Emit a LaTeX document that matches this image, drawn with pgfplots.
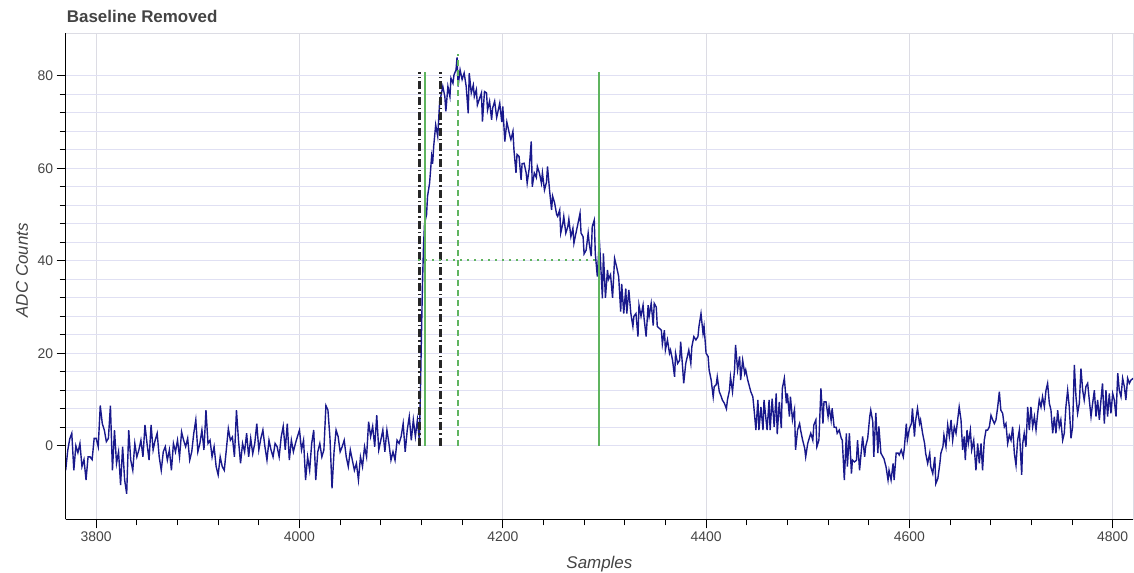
\documentclass[border=0pt]{standalone}
\usepackage{pgfplots}
\pgfplotsset{compat=1.18}
\usepackage{fontspec}
\setmainfont{Liberation Sans}
\definecolor{wave}{RGB}{25,25,140}
\definecolor{mkgreen}{RGB}{95,180,95}
\definecolor{hgrid}{RGB}{224,224,243}
\definecolor{vgrid}{RGB}{220,220,228}
\definecolor{txt}{RGB}{68,68,68}
\begin{document}
\begin{tikzpicture}
\begin{axis}[
 at={(0,0)}, anchor=south west,
 scale only axis, width=1067.3bp, height=486bp,
 xmin=3770, xmax=4820, ymin=-15.9, ymax=89.2,
 xtick={3800,4000,...,4800}, ytick={0,20,...,80},
 minor x tick num=4, minor y tick num=4,
 xtick pos=bottom, ytick pos=left,
 tick align=outside,
 major tick length=9bp, minor tick length=6bp,
 tick style={black, line width=1bp},
 axis line style={draw=vgrid, line width=1bp},
 xmajorgrids=true, ymajorgrids=true, yminorgrids=true,
 major x grid style={vgrid, line width=1bp},
 major y grid style={hgrid, line width=1bp},
 minor y grid style={hgrid, line width=1bp},
 ticklabel style={font=\fontsize{14}{14}\selectfont, text=txt},
 /pgf/number format/.cd, 1000 sep={}, assume math mode=true,
]
% waveform
\addplot[wave, line width=1.4bp] table {
x y
3770 -5.3
3772 -1.0
3774 1.5
3776 2.7
3778 -5.3
3780 0
3782 -1.5
3784 0.5
3786 -4.5
3788 -3.0
3790 -7.4
3792 -2.4
3794 -2.4
3796 -3.0
3798 1.6
3800 1.6
3802 -0.2
3804 8.7
3806 4.8
3808 3.4
3810 0.9
3812 1.6
3814 8.7
3816 -5.3
3818 3.4
3820 -3.8
3822 -1.3
3824 -8.5
3826 -0.2
3828 -7.4
3830 -10.4
3832 3.4
3834 -3.1
3836 -5.3
3838 0.5
3840 -2.4
3842 -0.9
3844 1.2
3846 -2.4
3848 4.5
3850 0.5
3852 -3.1
3854 4.5
3856 -0.9
3858 1.2
3860 2.7
3862 -2.4
3864 -5.3
3866 -1.3
3868 -0.2
3870 -3.1
3872 -0.9
3874 -5.3
3876 0.5
3878 -1.3
3880 1.2
3882 -2.4
3884 3.0
3886 1.2
3888 -0.2
3890 1.6
3892 -3.1
3894 -1.3
3896 2.7
3898 5.6
3900 -1.3
3902 0.5
3904 3.4
3906 -0.9
3908 7.7
3910 0.5
3912 1.2
3914 -2.4
3916 -0.2
3918 -4.5
3920 -6.3
3922 -2.4
3924 -4.5
3926 -5.3
3928 -0.9
3930 3.7
3932 1.2
3934 1.9
3936 -2.4
3938 7.7
3940 1.2
3942 -3.8
3944 0.5
3946 -1.3
3948 2.7
3950 -2.4
3952 1.6
3954 -1.7
3956 0.5
3958 4.8
3960 -0.9
3962 1.6
3964 3.4
3966 -0.2
3968 -3.1
3970 1.2
3972 -0.9
3974 -2.4
3976 0.5
3978 -0.2
3980 -2.4
3982 1.9
3984 4.2
3986 -0.9
3988 4.8
3990 -3.1
3992 1.2
3994 -1.3
3996 0.5
3998 2.0
4000 3.4
4002 -0.9
4004 1.2
4006 -7.4
4008 -2.4
4010 -5.3
4012 0.5
4014 3.4
4016 -7.4
4018 -1.3
4020 0.5
4022 -2.4
4024 -0.9
4026 8.7
4028 7.7
4030 1.6
4032 -9.2
4034 -1.3
4036 3.4
4038 2.0
4040 -1.3
4042 -0.2
4044 1.2
4046 -2.4
4048 -4.5
4050 -0.9
4052 -3.1
4054 -5.3
4056 -3.8
4058 -7.4
4060 -2.4
4062 -4.5
4064 -0.2
4066 -2.4
4068 5.2
4070 2.0
4072 4.2
4074 -0.2
4076 6.6
4078 -0.9
4080 1.2
4082 3.4
4084 -1.3
4086 3.4
4088 0.5
4090 -3.1
4092 -1.3
4094 -3.1
4096 1.2
4098 0.5
4100 2.0
4102 4.8
4104 -1.3
4106 3.4
4108 6.3
4110 1.2
4112 5.6
4114 2.0
4116 5.6
4118 1.0
4119 12
4120 24
4121 35
4122 43
4123 48
4125 50
4126 54
4128 56.8
4130 62.6
4131 61
4132 64.7
4134 69.4
4136 66.9
4138 74.8
4139 75.5
4141 77.7
4143 75.5
4144 72.3
4146 77.7
4148 75.5
4149 79.5
4151 78.4
4152 80.2
4154 81.3
4155 84
4156 77.7
4158 81.3
4160 79.2
4162 80.6
4164 77.7
4166 71.9
4167 80.6
4169 76.3
4171 78
4172 75.5
4174 77
4175 73.7
4177 75
4179 76.3
4180 70.1
4182 76.6
4184 76.3
4185 72.6
4187 74.5
4189 70.5
4190 73
4192 74.5
4194 71
4195 72
4197 74.1
4199 70
4200 73.4
4202 65.8
4204 70
4205 69
4207 67
4208 66.2
4210 68
4211 64
4213 59
4214 63
4216 62.6
4218 57.5
4219 61
4221 61.1
4223 59
4224 56.8
4226 60
4228 65.8
4229 56
4231 59
4233 58
4234 60.4
4236 59
4238 56.8
4239 59
4241 55.3
4243 57
4244 60.4
4246 55.3
4248 51
4249 54
4251 52.5
4253 50
4254 49.6
4256 51
4257 46
4259 48
4260 49.6
4262 46
4264 47.4
4265 49
4267 45.2
4269 47
4270 43.8
4272 46
4274 48.1
4276 50.3
4277 46
4279 45.2
4280 41.5
4282 42.3
4284 46
4285 43.8
4287 41
4288 47.4
4290 48.8
4291 41.6
4293 36.6
4295 44.5
4296 40.5
4298 31.9
4299 41.6
4301 32
4303 38
4304 36
4306 37
4308 32
4310 40.5
4312 38.7
4314 36.6
4316 29
4317 35
4319 28.6
4321 34
4322 28.6
4324 33.7
4326 28.6
4328 25.8
4329 28
4331 28.6
4333 23.6
4334 30.4
4336 28
4338 30.4
4339 27.6
4341 23.6
4343 30.4
4344 28
4346 30.8
4348 26
4349 30.8
4351 30
4352 25.8
4354 25.4
4356 25
4357 22
4359 25
4360 20.7
4362 22.9
4364 20
4365 20.7
4367 18.5
4369 14.9
4370 20
4372 17.8
4374 18.5
4375 22.5
4377 16.7
4378 13.5
4380 17.8
4383 20.7
4385 17.8
4386 21.4
4388 23.6
4390 22.9
4392 23.6
4393 25.8
4395 28.6
4397 24.3
4398 25.8
4400 20
4402 19.3
4403 16.4
4405 14.2
4407 10.6
4408 12.8
4410 13.2
4411 14.9
4413 11.7
4415 10.6
4416 9.9
4418 9.2
4420 8
4421 9.9
4423 12
4424 14.9
4426 11.7
4428 16.4
4429 21.8
4431 16.4
4433 19.3
4434 14.2
4436 18.5
4438 15.6
4439 16.4
4441 14.2
4444 11.7
4446 10.6
4447 8.4
4449 3.4
4451 9.9
4452 3.4
4454 8.4
4456 3.4
4457 9.9
4460 3.4
4462 9.9
4463 3.4
4465 10.2
4467 4.1
4469 11.3
4470 2.5
4472 9.5
4474 3.8
4475 12.4
4477 14.6
4479 9.2
4480 11.3
4482 6.3
4483 10.6
4485 5.6
4487 7.8
4488 -0.9
4490 3.4
4492 4.8
4493 3.4
4495 1.2
4497 -0.5
4498 -2.4
4500 0.5
4502 2
4503 2.7
4505 1.2
4506 4.5
4508 5.6
4509 -0.2
4511 1.2
4513 12.4
4515 4.8
4516 9.5
4518 9.5
4520 6.3
4521 8.4
4523 5.5
4524 8.1
4526 4
4528 4
4529 2.7
4531 3.4
4533 1.6
4534 1.2
4536 -7.4
4538 2.7
4539 -4.5
4541 2.7
4543 -6
4544 -3.1
4546 -3.5
4548 -3.1
4549 1.2
4551 -5.3
4554 2
4556 -2.4
4557 -0.2
4559 1.6
4561 6.3
4562 7.7
4564 5.2
4565 -2.4
4567 7.1
4569 -1.6
4570 4.2
4572 -1.6
4574 -2.4
4575 -2.8
4577 -4.5
4579 -7.4
4580 -5.3
4582 -7.4
4584 -3.8
4585 -7.4
4587 -1.6
4589 -1.6
4590 -2
4592 -0.9
4594 -2.4
4595 -0.6
4597 4.8
4598 1.2
4600 3.7
4602 4.8
4603 8.1
4605 2
4606 5.2
4608 8.1
4610 4.8
4611 5.6
4613 2.7
4615 0.5
4616 -1.6
4618 -3.8
4620 -1.6
4621 -4.5
4623 -6
4625 -2.4
4626 -8.2
4628 -7.1
4630 -3.8
4631 -1.6
4633 -0.2
4634 2.3
4636 -0.2
4637.7 4.5
4639.3 2.0
4641 5.6
4642.6 1.2
4644.2 4.1
4645.9 2.7
4647.5 5.6
4649 8.4
4650.8 5.6
4652.4 -0.9
4654 2.0
4655 -3.1
4656.7 3.4
4658 0.5
4660 3.4
4661.3 -0.9
4663.3 1.2
4665.5 -5.3
4667.2 0.5
4668.8 -3.8
4670.5 0.5
4672 -5.3
4673.7 1.2
4675.4 3.4
4677 3.4
4678.7 4.1
4680.3 6.6
4682 5.6
4683.6 4.8
4685.2 5.6
4686.9 8.4
4688.5 11.7
4690 7.7
4691.8 7.0
4693.4 4.1
4695 4.8
4696.7 0.5
4698.3 2.3
4700 1.2
4701.6 4.1
4703.3 -1.7
4704.9 -4.2
4706.5 1.2
4708.2 3.4
4710.5 -6.3
4711.5 0.5
4713 2.7
4714.7 -0.2
4716.4 8.4
4718 3.4
4719.6 8.4
4721.3 4.1
4723 6.3
4724.6 3.4
4726.2 7.0
4727.8 9.9
4729.5 8.4
4731 10.6
4732.8 8.4
4734.4 12
4736 13.5
4737.7 9.2
4739.3 7.7
4741 2.7
4742.6 6.3
4744.2 2.7
4745.9 7.7
4747.5 4.1
4749 5.6
4750.8 1.2
4752.4 2.7
4754 8.4
4755.7 12
4757.3 8.4
4759 1.6
4760.6 4.1
4762.3 17.5
4763.9 10.6
4765.5 7.0
4767.2 9.2
4768.8 16.7
4770.5 12
4772 9.9
4773.7 12.8
4775.4 13.5
4777 9.9
4778.7 6.3
4780.3 9.2
4782 12
4783.6 6.3
4785.2 9.9
4786.9 5.6
4788.5 9.9
4790 13.5
4791.8 4.8
4793.4 12
4795 6.3
4796.7 11.3
4798.3 7.0
4800 11.3
4801.6 9.9
4803.3 6.3
4805 15.7
4806.5 12
4808.2 10.6
4809.8 14.6
4811.5 12.8
4813 9.9
4814.7 14.6
4816.4 13.5
4818 14.2
4820.3 14.6
};
% black dash-dot markers
\addplot[black!85, line width=2.8bp, dash pattern=on 8bp off 3bp on 1.5bp off 3bp] coordinates {(4118,0) (4118,80.8)};
\addplot[black!85, line width=2.8bp, dash pattern=on 8bp off 3bp on 1.5bp off 3bp] coordinates {(4138.6,0) (4138.6,80.8)};
% green markers
\addplot[mkgreen, line width=2bp] coordinates {(4123,0) (4123,80.8)};
\addplot[mkgreen, line width=2bp] coordinates {(4295,0) (4295,80.8)};
\addplot[mkgreen, line width=1.8bp, dash pattern=on 6bp off 4bp] coordinates {(4155.7,0) (4155.7,84.8)};
\addplot[mkgreen, line width=1.8bp, dash pattern=on 2bp off 5bp] coordinates {(4117,40.2) (4294,40.2)};
\end{axis}
\draw[black, line width=1bp] (0,0) -- (0,486bp);
\draw[black, line width=1bp] (0,0) -- (1067.3bp,0);
\node[anchor=base west, inner sep=0, text=txt, font=\bfseries\fontsize{17}{17}\selectfont] at (1bp,496.3bp) {Baseline Removed};
\node[anchor=base, inner sep=0, text=txt, font=\itshape\fontsize{17}{17}\selectfont] at (533.7bp,-49bp) {Samples};
\node[anchor=center, rotate=90, inner sep=0, text=txt, font=\itshape\fontsize{17}{17}\selectfont] at (-43.7bp,249bp) {ADC Counts};
\pgfresetboundingbox
\path (-65.7bp,-53.7bp) rectangle (1068.3bp,519.3bp);
\end{tikzpicture}
\end{document}
